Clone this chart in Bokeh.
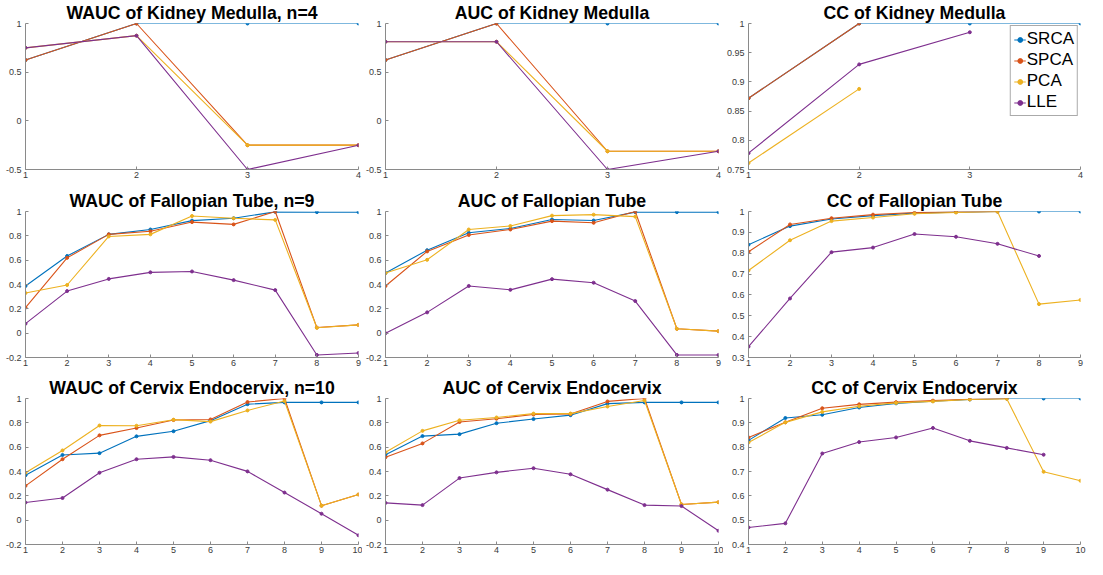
from bokeh.plotting import figure
from bokeh.layouts import gridplot
from bokeh.models import Range1d, FixedTicker, CustomJSTickFormatter, Legend
from bokeh.embed import file_html
from bokeh.resources import INLINE

nan = float("nan")

methods = ["SRCA", "SPCA", "PCA", "LLE"]
colors = ["#0072BD", "#D95319", "#EDB120", "#7E2F8E"]

titles = [
    "WAUC of Kidney Medulla, n=4", "AUC of Kidney Medulla", "CC of Kidney Medulla",
    "WAUC of Fallopian Tube, n=9", "AUC of Fallopian Tube", "CC of Fallopian Tube",
    "WAUC of Cervix Endocervix, n=10", "AUC of Cervix Endocervix", "CC of Cervix Endocervix",
]

# x categories (component counts)
x_kidney = [1, 2, 3, 4]
x_fallopian = [1, 2, 3, 4, 5, 6, 7, 8, 9]
x_cervix = [1, 2, 3, 4, 5, 6, 7, 8, 9, 10]

# y tick labels
yticks_wauc_kidney = [-0.5, 0, 0.5, 1]
yticks_cc_kidney = [0.75, 0.8, 0.85, 0.9, 0.95, 1]
yticks_auc = [-0.2, 0, 0.2, 0.4, 0.6, 0.8, 1]
yticks_cc_fallopian = [0.3, 0.4, 0.5, 0.6, 0.7, 0.8, 0.9, 1]
yticks_cc_cervix = [0.4, 0.5, 0.6, 0.7, 0.8, 0.9, 1]

# ---- Kidney Medulla ----
wauc_kidney_srca = [0.625, 1, 1, 1]
wauc_kidney_spca = [0.625, 1, -0.25, -0.25]
wauc_kidney_pca = [0.75, 0.875, -0.25, -0.25]
wauc_kidney_lle = [0.75, 0.875, -0.5, -0.25]

auc_kidney_srca = [0.625, 1, 1, 1]
auc_kidney_spca = [0.625, 1, -0.3125, -0.3125]
auc_kidney_pca = [0.8125, 0.8125, -0.3125, -0.3125]
auc_kidney_lle = [0.8125, 0.8125, -0.5, -0.3125]

cc_kidney_srca = [0.872, 1, 1, 1]
cc_kidney_spca = [0.872, 1, nan, nan]
cc_kidney_pca = [0.761, 0.888, nan, nan]
cc_kidney_lle = [0.778, 0.930, 0.985, nan]

# ---- Fallopian Tube ----
wauc_fallopian_srca = [0.388, 0.634, 0.812, 0.852, 0.925, 0.945, 0.997, 0.995, 0.995]
wauc_fallopian_spca = [0.21, 0.619, 0.812, 0.838, 0.913, 0.894, 1.0, 0.046, 0.068]
wauc_fallopian_pca = [0.33, 0.396, 0.795, 0.812, 0.963, 0.944, 0.931, 0.044, 0.068]
wauc_fallopian_lle = [0.078, 0.346, 0.446, 0.5, 0.507, 0.436, 0.354, -0.179, -0.163]

auc_fallopian_srca = [0.494, 0.682, 0.825, 0.86, 0.934, 0.926, 0.995, 0.995, 0.995]
auc_fallopian_spca = [0.388, 0.672, 0.807, 0.852, 0.921, 0.907, 1.0, 0.036, 0.017]
auc_fallopian_pca = [0.494, 0.603, 0.852, 0.881, 0.966, 0.974, 0.958, 0.036, 0.017]
auc_fallopian_lle = [0.0, 0.171, 0.388, 0.356, 0.444, 0.415, 0.264, -0.179, -0.179]

cc_fallopian_srca = [0.841, 0.93, 0.964, 0.98, 0.992, 0.997, 1.0, 1.0, 1.0]
cc_fallopian_spca = [0.807, 0.938, 0.968, 0.985, 0.995, 0.998, 1.0, nan, nan]
cc_fallopian_pca = [0.717, 0.862, 0.954, 0.971, 0.989, 0.995, 1.0, 0.556, 0.576]
cc_fallopian_lle = [0.352, 0.583, 0.805, 0.827, 0.892, 0.879, 0.845, 0.787, nan]

# ---- Cervix Endocervix ----
wauc_cervix_srca = [0.369, 0.536, 0.551, 0.689, 0.731, 0.818, 0.953, 0.968, 0.968, 0.968]
wauc_cervix_spca = [0.282, 0.501, 0.697, 0.757, 0.823, 0.828, 0.971, 1.0, 0.119, 0.211]
wauc_cervix_pca = [0.39, 0.573, 0.778, 0.776, 0.826, 0.81, 0.902, 0.979, 0.119, 0.211]
wauc_cervix_lle = [0.145, 0.182, 0.39, 0.501, 0.52, 0.493, 0.401, 0.227, 0.053, -0.124]

auc_cervix_srca = [0.538, 0.691, 0.707, 0.797, 0.831, 0.863, 0.958, 0.968, 0.968, 0.968]
auc_cervix_spca = [0.517, 0.631, 0.807, 0.834, 0.868, 0.873, 0.976, 1.0, 0.129, 0.148]
auc_cervix_pca = [0.559, 0.734, 0.821, 0.844, 0.876, 0.876, 0.934, 0.984, 0.129, 0.148]
auc_cervix_lle = [0.142, 0.124, 0.346, 0.393, 0.427, 0.377, 0.251, 0.124, 0.116, -0.087]

cc_cervix_srca = [0.828, 0.92, 0.933, 0.963, 0.98, 0.989, 0.996, 1.0, 1.0, 1.0]
cc_cervix_spca = [0.84, 0.902, 0.96, 0.976, 0.985, 0.992, 0.997, 1.0, nan, nan]
cc_cervix_pca = [0.819, 0.902, 0.945, 0.968, 0.982, 0.988, 0.996, 0.999, 0.699, 0.662]
cc_cervix_lle = [0.47, 0.487, 0.774, 0.821, 0.84, 0.879, 0.826, 0.797, 0.769, nan]

panels = [
    (x_kidney, [wauc_kidney_srca, wauc_kidney_spca, wauc_kidney_pca, wauc_kidney_lle], yticks_wauc_kidney),
    (x_kidney, [auc_kidney_srca, auc_kidney_spca, auc_kidney_pca, auc_kidney_lle], yticks_wauc_kidney),
    (x_kidney, [cc_kidney_srca, cc_kidney_spca, cc_kidney_pca, cc_kidney_lle], yticks_cc_kidney),
    (x_fallopian, [wauc_fallopian_srca, wauc_fallopian_spca, wauc_fallopian_pca, wauc_fallopian_lle], yticks_auc),
    (x_fallopian, [auc_fallopian_srca, auc_fallopian_spca, auc_fallopian_pca, auc_fallopian_lle], yticks_auc),
    (x_fallopian, [cc_fallopian_srca, cc_fallopian_spca, cc_fallopian_pca, cc_fallopian_lle], yticks_cc_fallopian),
    (x_cervix, [wauc_cervix_srca, wauc_cervix_spca, wauc_cervix_pca, wauc_cervix_lle], yticks_auc),
    (x_cervix, [auc_cervix_srca, auc_cervix_spca, auc_cervix_pca, auc_cervix_lle], yticks_auc),
    (x_cervix, [cc_cervix_srca, cc_cervix_spca, cc_cervix_pca, cc_cervix_lle], yticks_cc_cervix),
]

# layout geometry (columns: left border, frame, right border ; rows: top, frame, bottom)
col_geo = [(25, 333, 4), (23, 333, 5), (24, 333, 7)]
row_geo = [(22, 147, 19), (22, 147, 18), (22, 147, 15)]

FONT = "Liberation Sans"
fmt = CustomJSTickFormatter(code="return (Math.round(tick*1000)/1000).toString();")

rows = []
for r in range(3):
    row = []
    for c in range(3):
        i = r * 3 + c
        xs, series, yt = panels[i]
        L, FW, R = col_geo[c]
        T, FH, B = row_geo[r]
        p = figure(width=L + FW + R, height=T + FH + B,
                   x_range=Range1d(xs[0], xs[-1]), y_range=Range1d(yt[0], yt[-1]),
                   output_backend="svg", toolbar_location=None,
                   min_border_left=L, min_border_right=R, min_border_top=T, min_border_bottom=B,
                   outline_line_color=None, background_fill_color="white", border_fill_color="white")
        p.title.text = titles[i]
        p.title.align = "center"
        p.title.text_font = FONT
        p.title.text_font_size = "17.7px"
        p.title.text_font_style = "bold"
        p.title.text_color = "black"
        p.title.standoff = 1
        p.title.offset = 0
        p.xgrid.visible = False
        p.ygrid.visible = False
        for ax in (p.xaxis[0], p.yaxis[0]):
            ax.axis_line_color = "#8a8a8a"
            ax.axis_line_width = 1
            ax.major_tick_line_color = "#8a8a8a"
            ax.major_tick_in = 3
            ax.major_tick_out = 0
            ax.minor_tick_line_color = None
            ax.major_label_text_font = FONT
            ax.major_label_text_font_size = "9px"
            ax.major_label_text_color = "#3a3a3a"
            ax.formatter = fmt
        p.xaxis[0].ticker = FixedTicker(ticks=xs)
        p.yaxis[0].ticker = FixedTicker(ticks=yt)
        p.xaxis[0].major_label_standoff = 2
        p.yaxis[0].major_label_standoff = 4
        items = []
        for name, col, ys in zip(methods, colors, series):
            ln = p.line(xs, ys, line_color=col, line_width=1.1)
            sc = p.scatter(xs, ys, marker="circle", size=3, fill_color=col, line_color=col)
            items.append((name, [ln, sc]))
        if i == 2:
            leg = Legend(items=items, location="top_right")
            leg.label_text_font = FONT
            leg.label_text_font_size = "17px"
            leg.label_text_color = "black"
            leg.label_height = 19
            leg.label_standoff = 1
            leg.glyph_width = 12
            leg.glyph_height = 19
            leg.spacing = 1
            leg.padding = 3
            leg.margin = 2
            leg.border_line_color = "#555555"
            leg.border_line_width = 1
            leg.background_fill_color = "white"
            leg.background_fill_alpha = 1
            p.add_layout(leg)
        row.append(p)
    rows.append(row)

grid = gridplot(rows, toolbar_location=None)

open("out.html", "w").write(file_html(grid, INLINE))
